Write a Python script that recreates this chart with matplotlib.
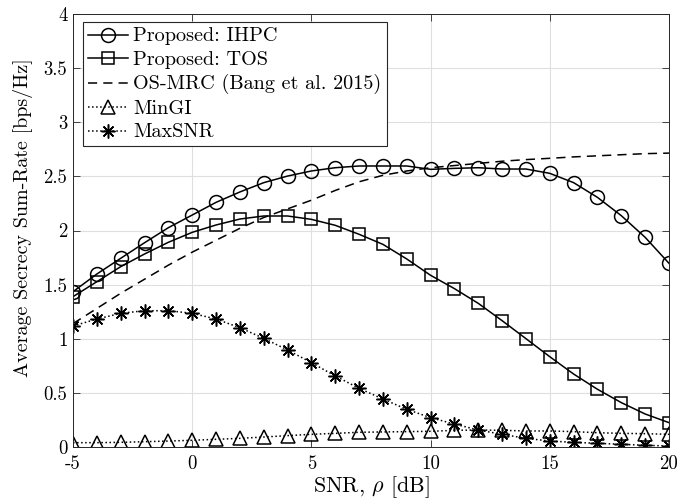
#!/usr/bin/env python3
import numpy as np
import matplotlib
matplotlib.use("Agg")
import matplotlib.pyplot as plt

plt.rcParams['font.family'] = ['cmr10', 'DejaVu Serif']
plt.rcParams['mathtext.fontset'] = 'cm'
plt.rcParams['axes.formatter.use_mathtext'] = True

snr = np.arange(-5, 21)

ihpc = [1.435, 1.598, 1.743, 1.887, 2.026, 2.143, 2.26, 2.356, 2.442, 2.503,
        2.55, 2.58, 2.596, 2.596, 2.596, 2.565, 2.574, 2.58, 2.568, 2.568,
        2.528, 2.442, 2.306, 2.137, 1.937, 1.697]
tos = [1.389, 1.527, 1.666, 1.783, 1.891, 1.983, 2.051, 2.106, 2.134, 2.134,
       2.103, 2.048, 1.965, 1.872, 1.737, 1.586, 1.463, 1.327, 1.167, 1.001,
       0.834, 0.674, 0.533, 0.41, 0.305, 0.225]
osmrc = [1.14, 1.28, 1.42, 1.55, 1.68, 1.80, 1.91, 2.02, 2.12, 2.20,
         2.28, 2.37, 2.45, 2.51, 2.55, 2.58, 2.60, 2.62, 2.64, 2.655,
         2.667, 2.68, 2.69, 2.70, 2.71, 2.715]
mingi = [0.040, 0.040, 0.043, 0.049, 0.055, 0.062, 0.071, 0.080, 0.092, 0.105,
         0.117, 0.126, 0.136, 0.139, 0.142, 0.145, 0.154, 0.157, 0.154, 0.148,
         0.148, 0.142, 0.132, 0.126, 0.123, 0.117]
maxsnr = [1.118, 1.182, 1.235, 1.259, 1.259, 1.235, 1.182, 1.102, 1.004, 0.896,
          0.779, 0.656, 0.542, 0.443, 0.348, 0.271, 0.212, 0.157, 0.117, 0.080,
          0.055, 0.043, 0.034, 0.025, 0.016, 0.009]

xticks = [-5, 0, 5, 10, 15, 20]
yticks = [0, 0.5, 1, 1.5, 2, 2.5, 3, 3.5, 4]
yticklabels = ['0', '0.5', '1', '1.5', '2', '2.5', '3', '3.5', '4']

fig = plt.figure(figsize=(6.78, 5.04), dpi=100)
ax = fig.add_axes([0.1077, 0.1131, 0.879, 0.8591])

lw = 1.1
ax.plot(snr, ihpc, '-', color='k', lw=lw, marker='o', ms=10, mfc='none', mew=1.1,
        label='Proposed: IHPC')
ax.plot(snr, tos, '-', color='k', lw=lw, marker='s', ms=9, mfc='none', mew=1.1,
        label='Proposed: TOS')
ax.plot(snr, osmrc, color='k', lw=lw, dashes=(6, 4),
        label='OS-MRC (Bang et al. 2015)')
ax.plot(snr, mingi, ':', color='k', lw=lw, marker='^', ms=10, mfc='none', mew=1.1,
        label='MinGI')
ax.plot(snr, maxsnr, ':', color='k', lw=lw, marker=(8, 2, 0), ms=10, mew=1.1,
        label='MaxSNR')

ax.set_xlim(-5, 20)
ax.set_ylim(0, 4)
ax.set_xticks(xticks)
ax.set_xticklabels([str(t) for t in xticks])
ax.set_yticks(yticks)
ax.set_yticklabels(yticklabels)
ax.tick_params(direction='in', top=True, right=True, labelsize=13.5, length=5,
               width=0.6, color='#262626')
ax.tick_params(axis='x', pad=6)
ax.tick_params(axis='y', pad=4)
ax.grid(True, color='#dfdfdf', lw=0.8)
ax.set_axisbelow(True)
for s in ax.spines.values():
    s.set_color('#262626')
    s.set_linewidth(0.7)

xl = ax.set_xlabel(r'SNR, $\rho$ [dB]', fontsize=15, labelpad=1)
yl = ax.set_ylabel('Average Secrecy Sum-Rate [bps/Hz]', fontsize=14)
ax.yaxis.set_label_coords(-0.067, 0.53)

leg = ax.legend(loc='upper left', bbox_to_anchor=(0.016, 0.982), fontsize=13,
                fancybox=False, edgecolor='#262626', framealpha=1,
                borderaxespad=0, handlelength=2.2, handletextpad=0.3,
                labelspacing=0.3, borderpad=0.3)
leg.get_frame().set_linewidth(0.8)

# scale text sizes to the widths (px) measured on the reference
fig.canvas.draw()
r = fig.canvas.get_renderer()
xl.set_fontsize(xl.get_fontsize() * 117 / xl.get_window_extent(r).width)
yl.set_fontsize(yl.get_fontsize() * 319 / yl.get_window_extent(r).height)
t0 = leg.get_texts()[0]
k = 144 / t0.get_window_extent(r).width
for t in leg.get_texts():
    t.set_fontsize(t.get_fontsize() * k)

fig.savefig('out.png', dpi=100)
